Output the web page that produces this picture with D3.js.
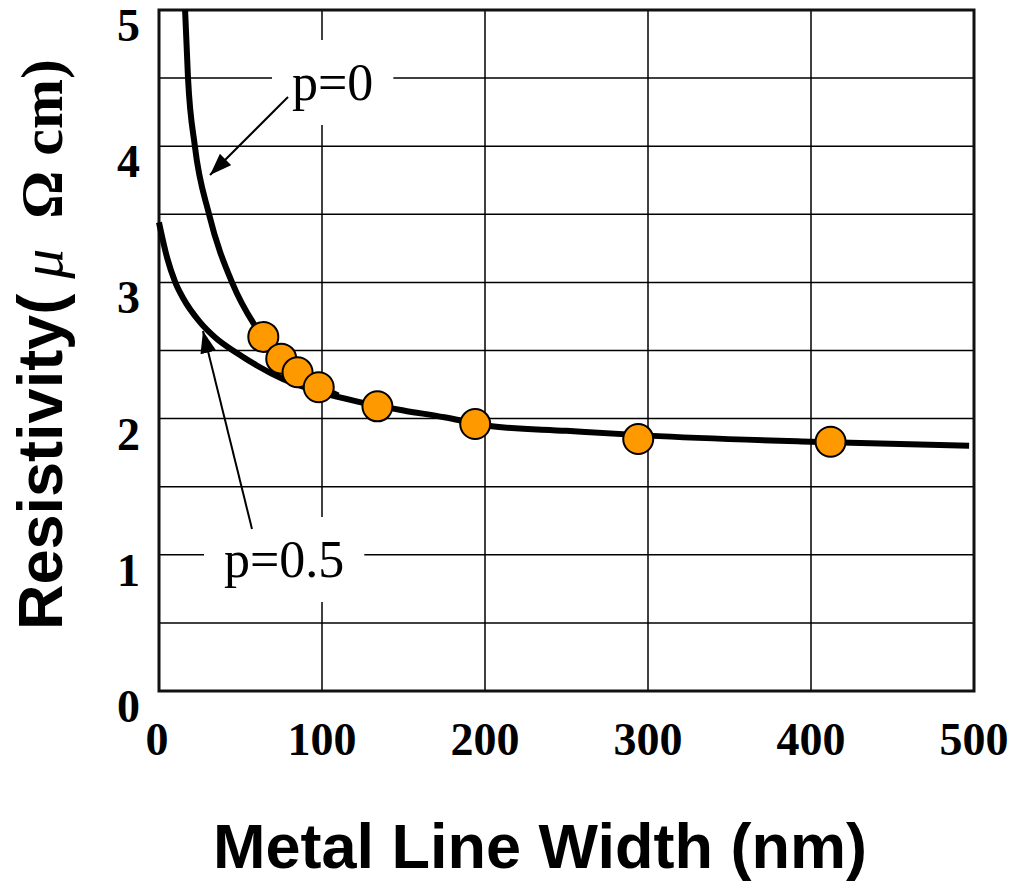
<!DOCTYPE html>
<html lang="en">
<head>
<meta charset="UTF-8">
<title>Resistivity vs Metal Line Width</title>
<script src="https://cdn.jsdelivr.net/npm/d3@7"></script>
<style>
    body { margin: 0; background: #fff; }
    svg { display: block; }
</style>
</head>
<body>
<script>
    // measured points (nm, μΩcm)
    var widths = [64, 75, 85, 98, 134, 194, 294, 412]
    var resist = [2.60, 2.44, 2.34, 2.23, 2.09, 1.96, 1.85, 1.83]

    // model curve p=0
    var p0Width = [16, 17.8, 22, 30.7, 44.8, 58, 64, 75, 85, 98, 110]
    var p0Value = [5.0, 4.5, 4.0, 3.5, 3.0, 2.70, 2.60, 2.45, 2.35, 2.24, 2.17]

    // model curve p=0.5
    var p05Width = [0, 5, 10, 15, 25, 35, 48, 60, 76, 100, 120, 150, 175, 194, 203, 250, 300, 400, 497]
    var p05Value = [3.44, 3.18, 3.00, 2.88, 2.71, 2.59, 2.48, 2.39, 2.29, 2.19, 2.13, 2.06, 2.01, 1.965, 1.945, 1.91, 1.875, 1.83, 1.80]

    var xTicks = [0, 100, 200, 300, 400, 500]
    var yTicks = [0, 1, 2, 3, 4, 5]
    var yGrid = [0.5, 1, 1.5, 2, 2.5, 3, 3.5, 4, 4.5]

    var width = 1010
    var height = 883
    var margin = { top: 10, right: 36, bottom: 192, left: 159 }
    var serif = '"Liberation Serif", "Times New Roman", serif'
    var sans = '"Liberation Sans", Arial, Helvetica, sans-serif'

    var svg = d3.select('body').append('svg')
        .attr('width', width)
        .attr('height', height)

    var x = d3.scaleLinear().domain([0, 500]).range([margin.left, width - margin.right])
    var y = d3.scaleLinear().domain([0, 5]).range([height - margin.bottom, margin.top])

    svg.append('defs').append('marker')
        .attr('id', 'arrow')
        .attr('viewBox', '0 0 22 16')
        .attr('refX', 22).attr('refY', 8)
        .attr('markerWidth', 22).attr('markerHeight', 16)
        .attr('markerUnits', 'userSpaceOnUse')
        .attr('orient', 'auto')
        .append('path')
        .attr('d', 'M0,0 L22,8 L0,16 Z')
        .attr('fill', '#000')

    // grid
    var grid = svg.append('g')
    grid.selectAll('.gx')
        .data(xTicks.slice(1, -1))
        .enter().append('line')
        .attr('x1', d => x(d)).attr('x2', d => x(d))
        .attr('y1', y(0)).attr('y2', y(5))
        .attr('stroke', '#000').attr('stroke-width', 1.5)
    grid.selectAll('.gy')
        .data(yGrid)
        .enter().append('line')
        .attr('y1', d => y(d)).attr('y2', d => y(d))
        .attr('x1', x(0)).attr('x2', x(500))
        .attr('stroke', '#000').attr('stroke-width', 1.5)

    // frame
    svg.append('rect')
        .attr('x', x(0)).attr('y', y(5))
        .attr('width', x(500) - x(0)).attr('height', y(0) - y(5))
        .attr('fill', 'none').attr('stroke', '#111').attr('stroke-width', 3)

    // labels with white backgrounds
    function label(txt, tx, ty, padX, padY) {
        var g = svg.append('g')
        var bg = g.append('rect').attr('fill', '#fff')
        var t = g.append('text')
            .attr('x', tx).attr('y', ty)
            .style('font-family', serif)
            .style('font-size', '52px')
            .text(txt)
        var b = t.node().getBBox()
        bg.attr('x', b.x - padX).attr('y', b.y - padY)
            .attr('width', b.width + 2 * padX).attr('height', b.height + 2 * padY)
    }
    label('p=0', 292, 100, 20, 14)
    label('p=0.5', 224, 577, 20, 14)

    // arrows
    svg.append('line')
        .attr('x1', 288).attr('y1', 97).attr('x2', 210).attr('y2', 175)
        .attr('stroke', '#000').attr('stroke-width', 2)
        .attr('marker-end', 'url(#arrow)')
    svg.append('line')
        .attr('x1', 252).attr('y1', 529).attr('x2', 203).attr('y2', 331)
        .attr('stroke', '#000').attr('stroke-width', 2)
        .attr('marker-end', 'url(#arrow)')

    // curves
    var line = d3.line()
        .x(d => x(d[0]))
        .y(d => y(d[1]))
        .curve(d3.curveMonotoneX)

    svg.append('path')
        .attr('d', line(d3.zip(p05Width, p05Value)))
        .attr('fill', 'none').attr('stroke', '#000').attr('stroke-width', 6)
    svg.append('path')
        .attr('d', line(d3.zip(p0Width, p0Value)))
        .attr('fill', 'none').attr('stroke', '#000').attr('stroke-width', 6)

    // measured points
    svg.selectAll('circle')
        .data(d3.zip(widths, resist))
        .enter().append('circle')
        .attr('cx', d => x(d[0]))
        .attr('cy', d => y(d[1]))
        .attr('r', 15)
        .attr('fill', '#FF9900')
        .attr('stroke', '#000')
        .attr('stroke-width', 2)

    // tick labels
    svg.selectAll('.xl')
        .data(xTicks)
        .enter().append('text')
        .attr('x', d => x(d) - (d === 0 ? 2 : 0))
        .attr('y', 755)
        .attr('text-anchor', 'middle')
        .style('font-family', serif)
        .style('font-weight', 'bold')
        .style('font-size', '46px')
        .text(d => d)
    svg.selectAll('.yl')
        .data(yTicks)
        .enter().append('text')
        .attr('x', 140)
        .attr('y', d => y(d) + 31)
        .attr('text-anchor', 'end')
        .style('font-family', serif)
        .style('font-weight', 'bold')
        .style('font-size', '46px')
        .text(d => d)

    // axis titles
    svg.append('text')
        .attr('x', 540).attr('y', 868)
        .attr('text-anchor', 'middle')
        .style('font-family', sans)
        .style('font-weight', 'bold')
        .style('font-size', '63px')
        .text('Metal Line Width (nm)')

    var yt = svg.append('text')
        .attr('transform', 'translate(62,630) rotate(-90)')
        .style('font-weight', 'bold')
    yt.append('tspan').style('font-family', sans).style('font-size', '63px').text('Resistivity(')
    yt.append('tspan').style('font-family', serif).style('font-size', '60px')
        .style('font-weight', 'normal').style('font-style', 'italic').text('\u00a0μ\u00a0\u00a0')
    yt.append('tspan').style('font-family', serif).style('font-size', '60px').text('Ω\u00a0cm)')
</script>
</body>
</html>
